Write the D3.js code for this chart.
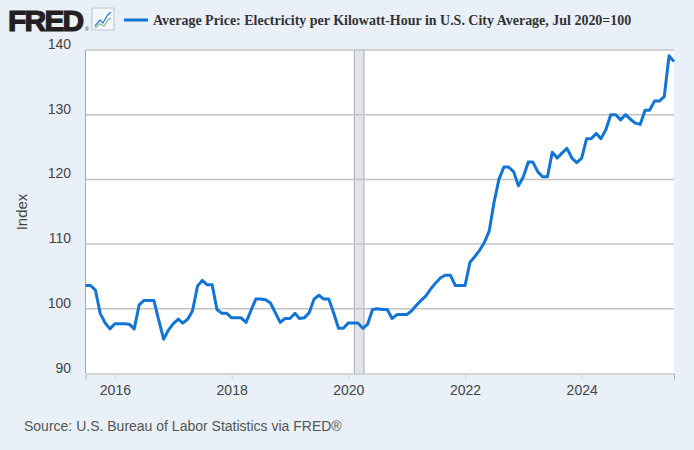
<!DOCTYPE html>
<html>
<head>
<meta charset="utf-8">
<script src="https://cdn.jsdelivr.net/npm/d3@7"></script>
<style>
  body { margin: 0; background: #e8eff8; }
  svg { display: block; }
</style>
</head>
<body>
<div id="chart"></div>
<script>
// monthly index values, Jul 2015 .. Aug 2025 (Jul 2020 = 100)
var values = [
  103.6, 103.6, 102.9, 99.3, 97.8, 96.9, 97.7, 97.7, 97.7, 97.6, 96.9, 100.6,
  101.3, 101.3, 101.3, 98.3, 95.3, 96.7, 97.7, 98.4, 97.8, 98.4, 99.7, 103.5,
  104.4, 103.7, 103.7, 99.9, 99.3, 99.3, 98.6, 98.6, 98.6, 97.9, 99.7, 101.5,
  101.5, 101.4, 100.9, 99.4, 97.9, 98.5, 98.5, 99.3, 98.5, 98.6, 99.4, 101.5,
  102.1, 101.5, 101.5, 99.4, 97.0, 97.0, 97.8, 97.8, 97.8, 97.0, 97.6, 99.9,
  100.0, 99.9, 99.9, 98.5, 99.1, 99.1, 99.1, 99.7, 100.5, 101.3, 102.0, 103.1,
  104.0, 104.8, 105.2, 105.2, 103.6, 103.6, 103.6, 107.2, 108.0, 109.0, 110.2, 112.0,
  116.4, 120.0, 121.9, 121.9, 121.2, 119.0, 120.4, 122.7, 122.7, 121.2, 120.4, 120.4,
  124.2, 123.3, 124.1, 124.8, 123.3, 122.6, 123.3, 126.3, 126.3, 127.1, 126.3, 127.7,
  130.0, 130.0, 129.2, 130.0, 129.3, 128.7, 128.5, 130.7, 130.7, 132.1, 132.1, 132.8,
  139.1, 138.2
];
var months = d3.timeMonth.range(new Date(2015, 6, 1), new Date(2025, 8, 1));
var yTicks = [90, 100, 110, 120, 130, 140];
var xTickYears = [2016, 2018, 2020, 2022, 2024];
var recession = [new Date(2020, 1, 8), new Date(2020, 3, 8)];
var seriesTitle = "Average Price: Electricity per Kilowatt-Hour in U.S. City Average, Jul 2020=100";

var width = 694, height = 450;
var plotL = 85.5, plotR = 674, plotT = 50, plotB = 373.5;

var svg = d3.select("#chart").append("svg")
  .attr("width", width)
  .attr("height", height);

svg.append("rect")
  .attr("width", width).attr("height", height)
  .attr("fill", "#e9f0f8");

var x = d3.scaleTime()
  .domain([months[0], months[months.length - 1]])
  .range([plotL, plotR]);

var y = d3.scaleLinear()
  .domain([90, 140])
  .range([plotB, plotT]);

// plot background
svg.append("rect")
  .attr("x", plotL).attr("y", plotT)
  .attr("width", plotR - plotL).attr("height", plotB - plotT)
  .attr("fill", "#ffffff");

// recession shading
svg.append("rect")
  .attr("x", x(recession[0]))
  .attr("y", plotT)
  .attr("width", x(recession[1]) - x(recession[0]))
  .attr("height", plotB - plotT)
  .attr("fill", "#e1e5ea");
svg.selectAll(".recEdge")
  .data(recession)
  .enter().append("line")
  .attr("x1", function(d) { return x(d); })
  .attr("x2", function(d) { return x(d); })
  .attr("y1", plotT).attr("y2", plotB)
  .attr("stroke", "#a9a9a9")
  .attr("stroke-width", 1);

// grid lines
svg.selectAll(".grid")
  .data(yTicks.slice(1))
  .enter().append("line")
  .attr("x1", plotL).attr("x2", plotR)
  .attr("y1", function(d) { return y(d); })
  .attr("y2", function(d) { return y(d); })
  .attr("stroke", "#c4c4c4")
  .attr("stroke-width", 1.5);

// y labels sit a bit above their grid line
svg.selectAll(".ylab")
  .data(yTicks)
  .enter().append("text")
  .attr("x", 71)
  .attr("y", function(d) { return y(d) - 1; })
  .attr("text-anchor", "end")
  .attr("font-family", "Liberation Sans, Arial, sans-serif")
  .attr("font-size", 14)
  .attr("fill", "#444")
  .text(function(d) { return d; });

// x axis
var xAxis = d3.axisBottom(x)
  .tickValues(xTickYears.map(function(yr) { return new Date(yr, 0, 1); }))
  .tickFormat(d3.timeFormat("%Y"))
  .tickSize(6)
  .tickPadding(6);

var gx = svg.append("g")
  .attr("transform", "translate(0," + plotB + ")")
  .call(xAxis);
gx.select(".domain").attr("stroke", "#b5b5b5");
gx.selectAll(".tick line").attr("stroke", "#cfcfcf");
gx.selectAll(".tick text")
  .attr("font-family", "Liberation Sans, Arial, sans-serif")
  .attr("font-size", 14)
  .attr("fill", "#444");

// left axis line
svg.append("line")
  .attr("x1", plotL).attr("x2", plotL)
  .attr("y1", plotT).attr("y2", plotB)
  .attr("stroke", "#a8a8a8");

// the series
var line = d3.line()
  .x(function(d, i) { return x(months[i]); })
  .y(function(d) { return y(d); });

svg.append("path")
  .datum(values)
  .attr("d", line)
  .attr("fill", "none")
  .attr("stroke", "#1275d6")
  .attr("stroke-width", 3)
  .attr("stroke-linejoin", "round");

// axis title
svg.append("text")
  .attr("transform", "translate(27,212) rotate(-90)")
  .attr("text-anchor", "middle")
  .attr("font-family", "Liberation Sans, Arial, sans-serif")
  .attr("font-size", 15)
  .attr("fill", "#444")
  .text("Index");

// source
svg.append("text")
  .attr("x", 24).attr("y", 431)
  .attr("font-family", "Liberation Sans, Arial, sans-serif")
  .attr("font-size", 14)
  .attr("fill", "#555")
  .text("Source: U.S. Bureau of Labor Statistics via FRED\u00ae");

// header: FRED logo
svg.append("text")
  .attr("x", 8).attr("y", 31)
  .attr("font-family", "Liberation Sans, Arial, sans-serif")
  .attr("font-weight", "bold")
  .attr("font-size", 30)
  .attr("letter-spacing", -1.8)
  .attr("fill", "#231f20")
  .attr("stroke", "#231f20")
  .attr("stroke-width", 1.2)
  .text("FRED");
svg.append("text")
  .attr("x", 85).attr("y", 31)
  .attr("font-family", "Liberation Sans, Arial, sans-serif")
  .attr("font-size", 5)
  .attr("fill", "#231f20")
  .text("\u00ae");

// little graph icon
var icon = svg.append("g").attr("transform", "translate(92,8)");
icon.append("rect")
  .attr("width", 22).attr("height", 22)
  .attr("fill", "#f4f7fb")
  .attr("stroke", "#b9c6d6");
icon.append("path")
  .attr("d", "M3,18 L8,12 L11,15 L15,8 L19,4")
  .attr("fill", "none")
  .attr("stroke", "#3f7fd0")
  .attr("stroke-width", 1.3);
icon.append("path")
  .attr("d", "M3,20 L8,16 L12,18 L16,12 L19,10")
  .attr("fill", "none")
  .attr("stroke", "#7fbf8f")
  .attr("stroke-width", 1.3);

// legend swatch + title
svg.append("line")
  .attr("x1", 124).attr("x2", 148)
  .attr("y1", 20).attr("y2", 20)
  .attr("stroke", "#1275d6")
  .attr("stroke-width", 3);

var title = svg.append("text")
  .attr("x", 153).attr("y", 25)
  .attr("font-family", "Liberation Serif, Times New Roman, serif")
  .attr("font-weight", "bold")
  .attr("font-size", 14)
  .attr("fill", "#333")
  .text(seriesTitle);
var tw = title.node().getComputedTextLength();
title.attr("font-size", 14 * 479 / tw);
</script>
</body>
</html>
